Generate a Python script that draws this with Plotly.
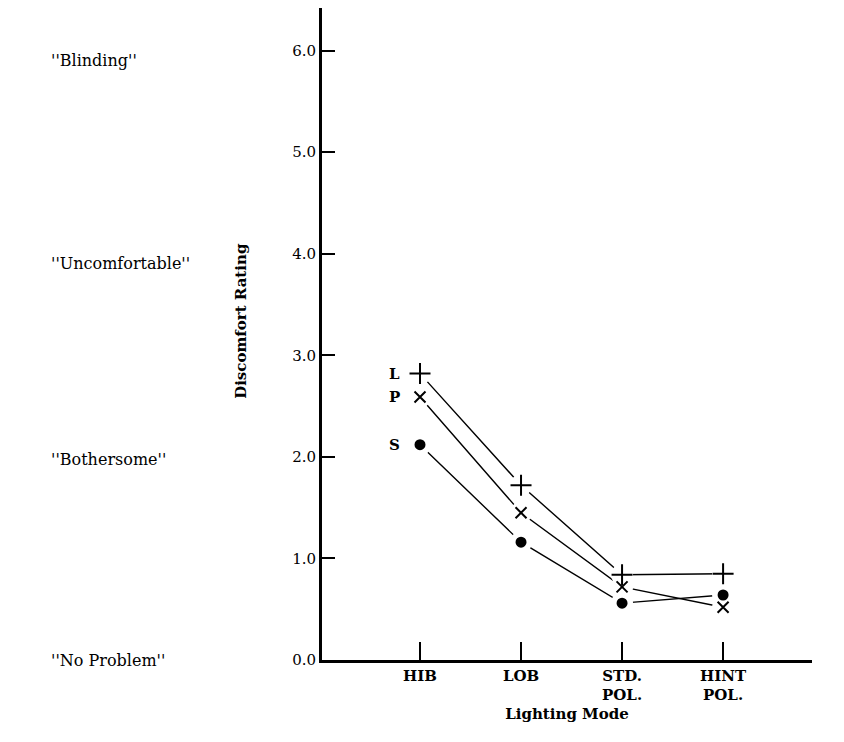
import plotly.graph_objects as go

# lighting modes along the x axis
modes = ["HIB", "LOB", "STD.<br>POL.", "HINT<br>POL."]
mode_pos = [1, 2, 3, 4]

# discomfort ratings
L_vals = [2.82, 1.72, 0.84, 0.85]
P_vals = [2.59, 1.45, 0.72, 0.52]
S_vals = [2.12, 1.16, 0.56, 0.64]

y_ticks = [0, 1, 2, 3, 4, 5, 6]
y_ticktext = ["0.0", "1.0", "2.0", "3.0", "4.0", "5.0", "6.0"]

# verbal anchors on the left, placed where they sit on the rating scale
verbal_levels = [5.9, 3.9, 1.97, 0]
verbal_text = ["''Blinding''", "''Uncomfortable''", "''Bothersome''", "''No Problem''"]

series = [
    ("L", L_vals, "cross-thin", 15),
    ("P", P_vals, "x-thin", 11),
    ("S", S_vals, "circle", 9),
]

fig = go.Figure()

# connecting lines first, white discs to leave a gap round each point, then the symbols
for name, vals, sym, sz in series:
    fig.add_trace(go.Scatter(x=mode_pos, y=vals, mode="lines",
                             line=dict(color="black", width=1.4), showlegend=False,
                             hoverinfo="skip"))
for name, vals, sym, sz in series:
    fig.add_trace(go.Scatter(x=mode_pos, y=vals, mode="markers",
                             marker=dict(symbol="circle", size=22, color="white"),
                             showlegend=False, hoverinfo="skip"))
for name, vals, sym, sz in series:
    fig.add_trace(go.Scatter(x=mode_pos, y=vals, mode="markers", name=name,
                             marker=dict(symbol=sym, size=sz, color="black",
                                         line=dict(color="black", width=2)),
                             showlegend=False))
    # series letter to the left of the first point
    fig.add_annotation(x=mode_pos[0], y=vals[0], text="<b>" + name + "</b>",
                       showarrow=False, xshift=-26, xanchor="center",
                       font=dict(family="DejaVu Serif", size=15, color="black"))

for lvl, txt in zip(verbal_levels, verbal_text):
    fig.add_annotation(x=-0.557, xref="paper", y=lvl, yref="y", text=txt,
                       showarrow=False, xanchor="left", yanchor="middle",
                       font=dict(family="DejaVu Serif", size=16, color="black"))

fig.add_annotation(x=-0.188, xref="paper", y=0.52, yref="paper",
                   text="<b>Discomfort Rating</b>", textangle=-90, showarrow=False,
                   font=dict(family="DejaVu Serif", size=15, color="black"))

fig.update_xaxes(range=[0.03, 4.88], tickvals=mode_pos,
                 ticktext=["<b>" + m.replace("<br>", "</b><br><b>") + "</b>" for m in modes],
                 ticks="inside", ticklen=18, tickwidth=1.5, tickcolor="black",
                 showline=True, linecolor="black", linewidth=2.5, showgrid=False,
                 zeroline=False, tickfont=dict(family="DejaVu Serif", size=15, color="black"),
                 title=dict(text="<b>Lighting Mode</b>", standoff=6,
                            font=dict(family="DejaVu Serif", size=15, color="black")))
fig.update_yaxes(range=[0, 6.42], tickvals=y_ticks, ticktext=y_ticktext,
                 ticks="inside", ticklen=13, tickwidth=1.5, tickcolor="black",
                 showline=True, linecolor="black", linewidth=3, showgrid=False,
                 zeroline=False, tickfont=dict(family="DejaVu Serif", size=15, color="black"))

# the page adds an 8px body margin, so the figure is a little smaller
fig.update_layout(width=836, height=734, plot_bgcolor="white", paper_bgcolor="white",
                  margin=dict(l=314, r=32, t=0, b=82))

fig.write_html("out.html")
